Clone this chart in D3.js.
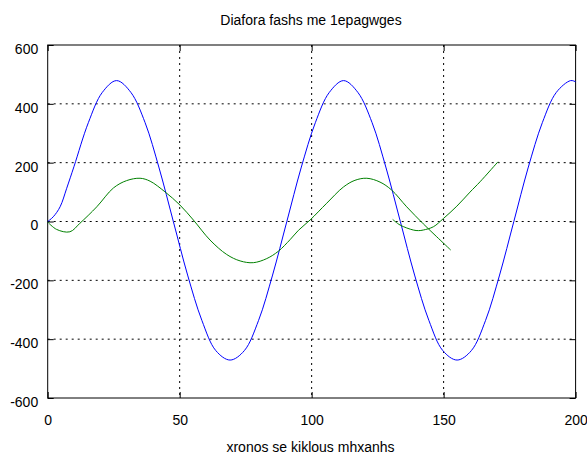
<!DOCTYPE html>
<html>
<head>
<meta charset="utf-8">
<script src="https://cdn.jsdelivr.net/npm/d3@7"></script>
<style>
  body { margin: 0; background: #fff; }
  text { font-family: "Liberation Sans", Arial, sans-serif; }
</style>
</head>
<body>
<div id="chart"></div>
<script>
// values
var xTicks = [0, 50, 100, 150, 200];
var yTicks = [-600, -400, -200, 0, 200, 400, 600];

// blue trace
var blueX = [0, 2.1, 4.7, 7.2, 10, 15.4, 20.7, 26.1, 31.5, 36.9, 42.2, 47.6, 53, 58.4, 63.7,
    69.1, 74.5, 79.9, 85.2, 90.6, 96, 101.4, 106.7, 112.1, 117.5, 122.9, 128.2, 133.6, 139,
    144.4, 149.7, 155.1, 160.5, 165.9, 171.2, 176.6, 182, 187.4, 192.7, 198.1, 200];
var blueY = [0, 16, 50, 113, 188, 336, 439, 479, 439, 336, 182, 0, -182, -336, -439,
    -471, -439, -336, -182, 0, 182, 336, 439, 479, 439, 336, 182, 0, -182,
    -336, -439, -471, -439, -336, -182, 0, 182, 336, 439, 479, 475];

// green trace, first part
var green1X = [0, 3.4, 8.4, 12.2, 18.6, 24.9, 29.9, 35, 38.8, 44.4, 50.1, 55.2, 61.5, 67.8,
    72.9, 77.9, 83, 87.4, 91.8, 95, 99.4, 105.7, 112, 116.4, 120.9, 125.9, 130.3, 136, 142.3,
    147.4, 152.7];
var green1Y = [-2, -27, -35, -6, 50, 114, 139, 147, 137, 101, 56, 5, -63, -112,
    -134, -140, -126, -101, -62, -30, 5, 62, 117, 140, 147, 134, 107, 50, -8,
    -52, -97];

// green trace, second part
var green2X = [130.7, 133.5, 138.5, 140.5, 142.3, 146.1, 149.9, 155, 160, 163.8, 170.6];
var green2Y = [7, -12, -29, -31, -29, -18, 10, 52, 100, 135, 203];

var svgWidth = 587;
var svgHeight = 455;

var chartMargin = {
    top: 45,
    right: 11.4,
    bottom: 57,
    left: 47.7
};

var chartWidth = svgWidth - chartMargin.left - chartMargin.right;
var chartHeight = svgHeight - chartMargin.top - chartMargin.bottom;

var svg = d3.select("#chart")
    .append("svg")
    .attr("width", svgWidth)
    .attr("height", svgHeight);

var chartGroup = svg.append("g")
    .attr("transform", `translate(${chartMargin.left}, ${chartMargin.top})`);

// scales
var x = d3.scaleLinear()
    .domain([0, 200])
    .range([0, chartWidth]);

var y = d3.scaleLinear()
    .domain([-600, 600])
    .range([chartHeight, 0]);

// dotted grid
chartGroup.selectAll(".vgrid")
    .data(xTicks.slice(1, -1))
    .enter()
    .append("line")
    .attr("x1", d => x(d))
    .attr("x2", d => x(d))
    .attr("y1", 0)
    .attr("y2", chartHeight)
    .attr("stroke", "#000")
    .attr("stroke-dasharray", "2,4");

chartGroup.selectAll(".hgrid")
    .data(yTicks.slice(1, -1))
    .enter()
    .append("line")
    .attr("x1", 0)
    .attr("x2", chartWidth)
    .attr("y1", d => y(d))
    .attr("y2", d => y(d))
    .attr("stroke", "#000")
    .attr("stroke-dasharray", "2,4");

// axes, ticks pointing inward like gnuplot
// plain hyphen for negatives
var fmt = d => String(d);

var xaxis = d3.axisBottom(x).tickValues(xTicks).tickSize(-6).tickPadding(17).tickFormat(fmt);
var yaxis = d3.axisLeft(y).tickValues(yTicks).tickSize(-6).tickPadding(9.5).tickFormat(fmt);

var gx = chartGroup.append("g")
    .attr("transform", `translate(0, ${chartHeight})`)
    .call(xaxis);

var gy = chartGroup.append("g")
    .call(yaxis);

chartGroup.append("g")
    .call(d3.axisTop(x).tickValues(xTicks).tickSize(-6).tickFormat(""));

chartGroup.append("g")
    .attr("transform", `translate(${chartWidth}, 0)`)
    .call(d3.axisRight(y).tickValues(yTicks).tickSize(-6).tickFormat(""));

chartGroup.selectAll(".domain").remove();

gx.selectAll("text")
    .style("font-size", "14px")
    .attr("fill", "#000");
gy.selectAll("text")
    .style("font-size", "14px")
    .attr("dy", "0.6em")
    .attr("fill", "#000");
chartGroup.selectAll(".tick line").attr("stroke", "#000");

// border
chartGroup.append("rect")
    .attr("width", chartWidth)
    .attr("height", chartHeight)
    .attr("fill", "none")
    .attr("stroke", "#000");

// lines
var line = d3.line()
    .x(d => x(d[0]))
    .y(d => y(d[1]))
    .curve(d3.curveCatmullRom);

chartGroup.append("path")
    .datum(blueX.map((d, i) => [d, blueY[i]]))
    .attr("d", line)
    .attr("fill", "none")
    .attr("stroke", "#0000ff")
    .attr("stroke-width", 1);

chartGroup.append("path")
    .datum(green1X.map((d, i) => [d, green1Y[i]]))
    .attr("d", line)
    .attr("fill", "none")
    .attr("stroke", "#008000")
    .attr("stroke-width", 1);

chartGroup.append("path")
    .datum(green2X.map((d, i) => [d, green2Y[i]]))
    .attr("d", line)
    .attr("fill", "none")
    .attr("stroke", "#008000")
    .attr("stroke-width", 1);

// title
svg.append("text")
    .attr("x", 311)
    .attr("y", 25)
    .style("text-anchor", "middle")
    .style("font-size", "14px")
    .text("Diafora fashs me 1epagwges");

// x-axis label
svg.append("text")
    .attr("x", 310.5)
    .attr("y", 452)
    .style("text-anchor", "middle")
    .style("font-size", "14px")
    .text("xronos se kiklous mhxanhs");
</script>
</body>
</html>
